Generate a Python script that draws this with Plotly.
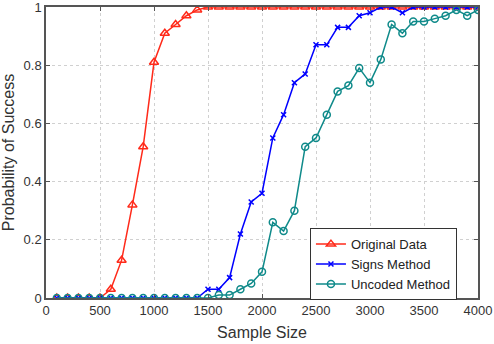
import plotly.graph_objects as go

sample_size = list(range(100, 4001, 100))

original_data = [0, 0, 0, 0, 0, 0.03, 0.13, 0.32, 0.52, 0.81,
                 0.91, 0.94, 0.97, 0.99, 1.0, 1.0, 1.0, 1.0, 1.0, 1.0,
                 1.0, 1.0, 1.0, 1.0, 1.0, 1.0, 1.0, 1.0, 1.0, 1.0,
                 1.0, 1.0, 1.0, 1.0, 1.0, 1.0, 1.0, 1.0, 1.0, 1.0]

signs_method = [0, 0, 0, 0, 0, 0, 0, 0, 0, 0,
                0, 0, 0, 0, 0.03, 0.03, 0.07, 0.22, 0.33, 0.36,
                0.55, 0.63, 0.74, 0.77, 0.87, 0.87, 0.93, 0.93, 0.97, 0.98,
                1.0, 1.0, 0.98, 1.0, 1.0, 1.0, 1.0, 1.0, 1.0, 1.0]

uncoded_method = [0, 0, 0, 0, 0, 0, 0, 0, 0, 0,
                  0, 0, 0, 0, 0, 0.01, 0.01, 0.03, 0.05, 0.09,
                  0.26, 0.23, 0.30, 0.52, 0.55, 0.63, 0.71, 0.73, 0.79, 0.74,
                  0.82, 0.94, 0.91, 0.95, 0.95, 0.96, 0.97, 0.99, 0.97, 0.99]

x_ticks = [0, 500, 1000, 1500, 2000, 2500, 3000, 3500, 4000]
y_ticks = [0, 0.2, 0.4, 0.6, 0.8, 1]
y_labels = ["0", "0.2", "0.4", "0.6", "0.8", "1"]

fig = go.Figure()

fig.add_trace(go.Scatter(
    x=sample_size, y=original_data, name="Original Data",
    mode="lines+markers",
    line=dict(color="#ff2a1a", width=1.5),
    marker=dict(symbol="triangle-up-open", size=8, color="#ff2a1a", line=dict(width=1.5)),
))
fig.add_trace(go.Scatter(
    x=sample_size, y=signs_method, name="Signs Method",
    mode="lines+markers",
    line=dict(color="#0000ff", width=1.5),
    marker=dict(symbol="x-thin-open", size=5, color="#0000ff", line=dict(width=1.5, color="#0000ff")),
))
fig.add_trace(go.Scatter(
    x=sample_size, y=uncoded_method, name="Uncoded Method",
    mode="lines+markers",
    line=dict(color="#0f8a8a", width=1.5),
    marker=dict(symbol="circle-open", size=7, color="#0f8a8a", line=dict(width=1.5)),
))

axis_style = dict(
    showline=True, linecolor="#555555", linewidth=1.5, mirror="ticks",
    ticks="inside", ticklen=4, tickcolor="#555555",
    showgrid=True, gridcolor="#d0d0d0", griddash="dot", gridwidth=1,
    zeroline=False,
    tickfont=dict(size=13, color="#333333"),
    ticklabeloverflow="allow",
)

fig.update_layout(
    width=494, height=344,
    margin=dict(l=46, r=16, t=7, b=46, autoexpand=False),
    paper_bgcolor="white", plot_bgcolor="white",
    font=dict(family="Liberation Sans, Arial, sans-serif", color="#333333"),
    showlegend=True,
    legend=dict(
        x=0.611, y=0.24, xanchor="left", yanchor="top",
        bgcolor="white", bordercolor="#333333", borderwidth=1,
        font=dict(size=13, color="#222222"),
        tracegroupgap=0, itemwidth=30,
    ),
)

fig.update_xaxes(range=[0, 4000], tickvals=x_ticks,
                 title=dict(text="Sample Size", font=dict(size=16), standoff=9), **axis_style)
fig.update_yaxes(range=[0, 1], tickvals=y_ticks, ticktext=y_labels,
                 title=dict(text="Probability of Success", font=dict(size=16), standoff=6), **axis_style)

fig.write_html("out.html", config={"displayModeBar": False},
               post_script="document.body.style.margin='0';")
